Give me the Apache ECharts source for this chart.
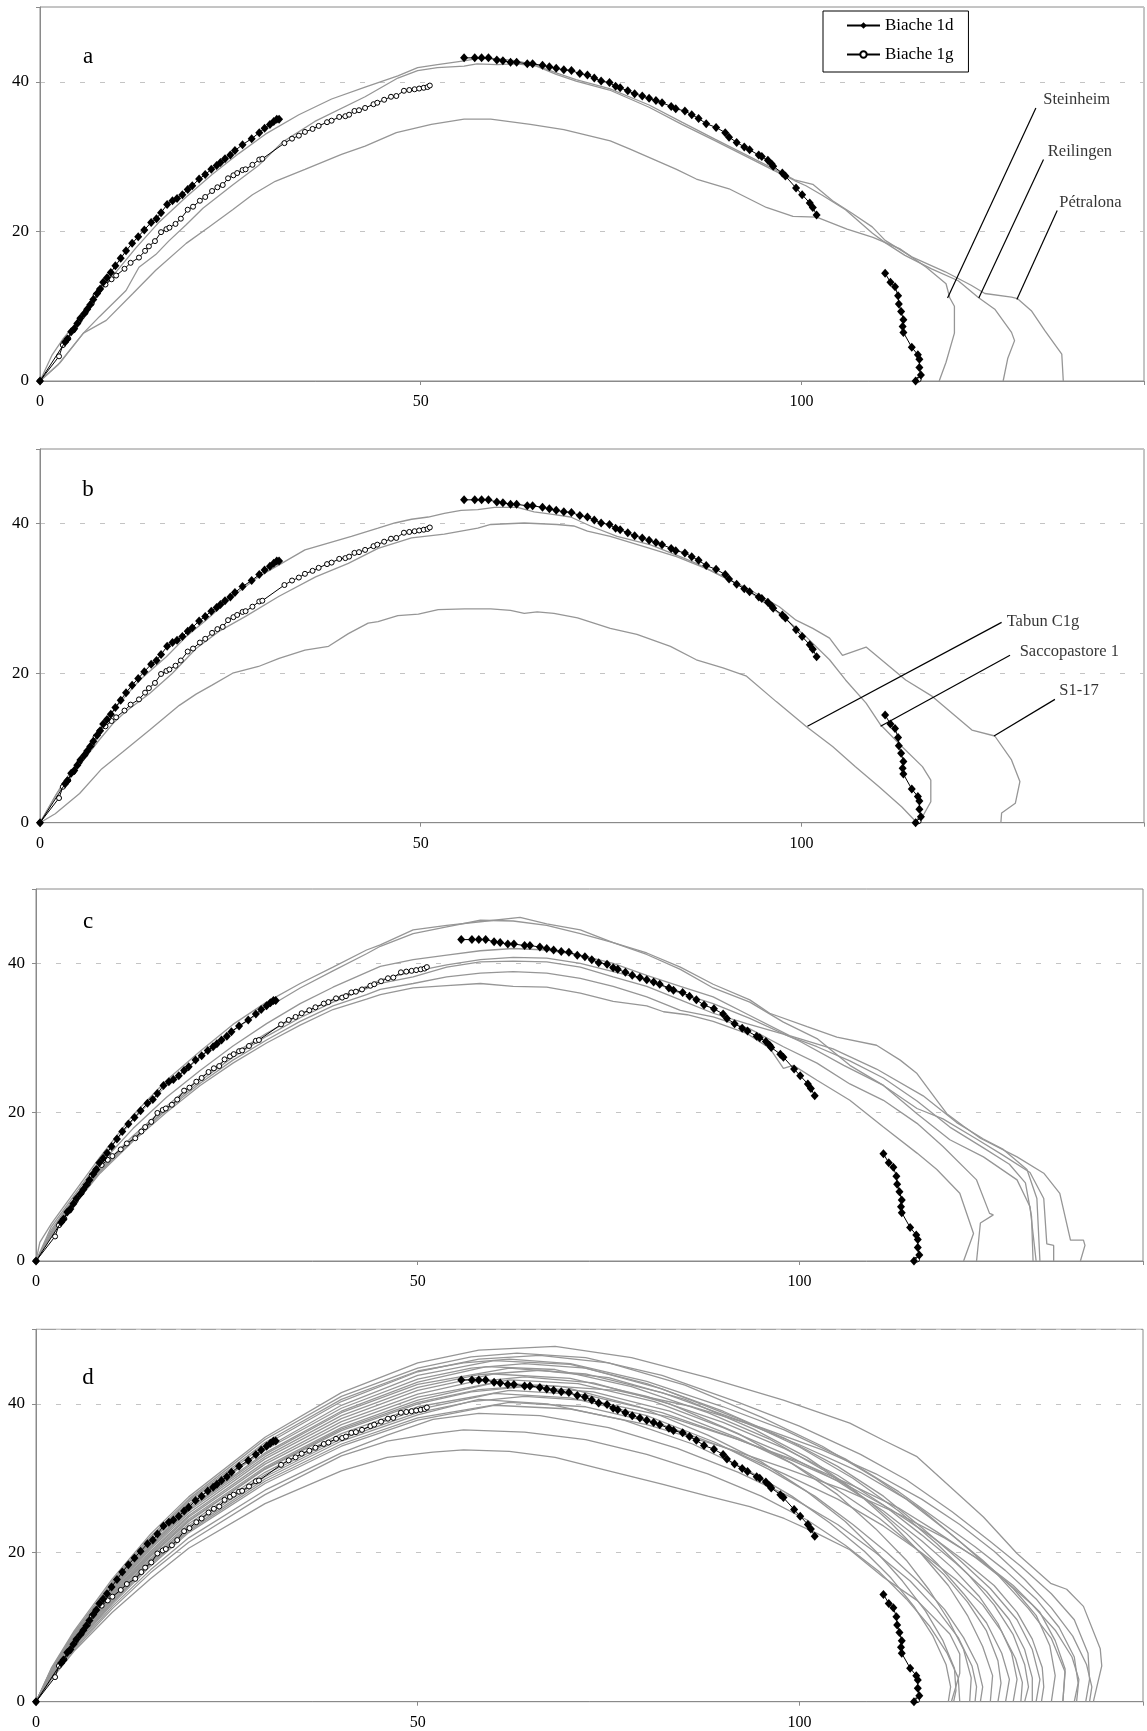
<!DOCTYPE html>
<html><head><meta charset="utf-8">
<script src="https://cdn.jsdelivr.net/npm/echarts@6/dist/echarts.min.js"></script>
<style>html,body{margin:0;padding:0;background:#fff}#c{width:1147px;height:1731px}</style>
</head><body><div id="c"></div><script>
// ---------------- DATA ----------------
const X_TICKS = [0, 50, 100];
const Y_TICKS = [0, 20, 40];
const PANEL_LETTERS = ['a', 'b', 'c', 'd'];
const LEGEND_NAMES = ['Biache 1d', 'Biache 1g'];

// Biache 1d (black diamonds), three pieces
const BIACHE_1D_1 = [[0,0],[3.3,5.2],[3.6,5.6],[4.1,6.6],[4.5,7.0],[4.9,7.7],[5.3,8.4],[5.8,9.0],[6.2,9.6],[6.6,10.2],[7.0,10.9],[7.5,11.7],[7.9,12.3],[8.3,13.2],[8.8,13.8],[9.3,14.5],[9.9,15.4],[10.6,16.4],[11.3,17.4],[12.1,18.4],[12.9,19.3],[13.7,20.2],[14.6,21.2],[15.3,21.7],[15.9,22.5],[16.7,23.6],[17.4,24.1],[18.0,24.4],[18.7,24.9],[19.4,25.6],[20.0,26.1],[20.9,27.0],[21.7,27.6],[22.5,28.3],[23.2,28.8],[23.7,29.2],[24.3,29.7],[25.0,30.2],[25.6,30.8],[26.6,31.6],[27.8,32.4],[28.8,33.2],[29.5,33.8],[30.2,34.3],[30.7,34.7],[31.1,35.0],[31.4,35.0]];
const BIACHE_1D_2 = [[55.7,43.2],[57.1,43.2],[58.0,43.2],[58.9,43.2],[60.0,42.9],[60.8,42.8],[61.8,42.6],[62.6,42.6],[64.0,42.4],[64.7,42.4],[66.0,42.2],[66.9,42.0],[67.8,41.8],[68.8,41.6],[69.8,41.5],[70.9,41.1],[71.9,40.9],[72.8,40.5],[73.7,40.1],[74.8,39.9],[75.6,39.4],[76.2,39.2],[77.2,38.8],[78.1,38.4],[79.1,38.1],[80.0,37.8],[80.9,37.5],[81.7,37.2],[82.9,36.7],[83.5,36.4],[84.7,36.1],[85.6,35.6],[86.5,35.1],[87.5,34.4],[88.8,33.9],[90.0,33.2],[90.5,32.6],[91.5,31.9],[92.5,31.3],[93.2,30.9],[94.4,30.2],[94.8,30.0],[95.6,29.5],[96.1,29.0],[96.3,28.7],[97.5,27.8],[97.9,27.4],[99.3,25.8],[100.1,24.9],[101.1,23.8],[101.5,23.2],[102.0,22.2]];
const BIACHE_1D_3 = [[111.0,14.4],[111.7,13.2],[112.3,12.6],[112.7,11.4],[112.8,10.3],[113.1,9.3],[113.4,8.2],[113.3,7.3],[113.4,6.5],[114.5,4.5],[115.3,3.5],[115.5,2.9],[115.5,1.8],[115.7,0.8],[115.0,0.0]];
// Biache 1g (open circles)
const BIACHE_1G_1 = [[0,0],[2.5,3.3],[3.0,4.8],[3.7,5.7],[4.4,6.8],[5.2,8.1],[6.0,9.2],[6.8,10.4],[7.3,11.5],[7.8,12.2],[8.6,12.9],[9.4,13.6],[10.0,14.1],[11.1,15.0],[11.9,15.8],[13.0,16.5],[13.8,17.4],[14.3,18.0],[15.1,18.7],[15.9,19.9],[16.6,20.3],[17.0,20.5],[17.8,21.0],[18.5,21.7],[19.4,22.9],[20.1,23.3],[21.0,24.1],[21.7,24.6],[22.6,25.4],[23.3,25.9],[24.0,26.2],[24.7,27.1],[25.4,27.5],[25.9,27.8],[26.6,28.2],[27.0,28.3],[27.9,28.9],[28.8,29.6],[29.2,29.7],[32.1,31.8],[33.1,32.4],[34.0,32.8],[34.8,33.3],[35.8,33.7],[36.6,34.1],[37.7,34.6],[38.3,34.8],[39.3,35.3],[40.1,35.4],[40.6,35.6],[41.3,36.1],[41.9,36.2],[42.7,36.5],[43.8,37.0],[44.3,37.2],[45.2,37.6],[46.1,38.0],[46.8,38.1],[47.8,38.8],[48.5,38.9],[49.2,39.0],[49.8,39.1],[50.4,39.2],[50.9,39.3],[51.2,39.5]];
const BIACHE_1G_2 = [[115.4,0.2]];

// Panel a
const STEINHEIM = [[0,0],[2.6,2.4],[5.7,6.4],[8.7,8.1],[12.2,11.7],[15.2,14.8],[19.2,18.4],[22.2,20.6],[25.3,22.9],[27.9,24.9],[30.9,26.7],[34.8,28.3],[39.6,30.3],[42.7,31.4],[46.8,33.2],[51.4,34.3],[55.7,35.0],[59.2,35.0],[64.4,34.3],[68.8,33.6],[74.9,32.1],[77.5,31.0],[83.6,28.3],[86.2,27.0],[90.5,25.7],[95.4,23.2],[98.9,22.0],[102.0,21.9],[106.0,20.3],[109.4,19.2],[112.9,17.7],[116.4,15.2],[119.0,13.0],[119.5,11.1],[120.1,10.0],[120.1,6.4],[119.0,2.5],[118.1,0]];
const REILINGEN = [[0,0],[2.3,2.1],[5.7,6.4],[7.8,8.6],[11.3,12.1],[13.0,15.2],[15.2,16.9],[16.9,18.7],[19.2,20.9],[21.4,23.1],[25.3,26.2],[28.7,28.8],[31.8,31.9],[36.1,34.7],[42.7,38.0],[47.0,40.5],[49.6,41.5],[52.2,41.9],[55.7,42.1],[57.4,42.4],[60.0,42.3],[62.6,42.4],[65.2,42.1],[67.8,41.0],[70.4,40.1],[74.8,38.9],[80.0,36.6],[84.3,34.3],[88.7,32.1],[93.0,29.9],[96.5,28.1],[99.1,26.8],[100.6,26.1],[102.8,24.8],[105.8,22.9],[109.3,19.8],[111.0,18.5],[113.6,16.8],[117.1,15.0],[120.6,13.4],[123.2,11.2],[125.4,9.6],[127.6,6.5],[128.0,5.4],[127.1,3.0],[126.5,0]];
const PETRALONA = [[0,0],[1.6,3.5],[3.0,5.6],[5.7,9.0],[7.8,11.8],[10.0,14.6],[12.6,17.8],[15.7,21.3],[19.2,24.6],[22.6,27.6],[26.1,30.4],[29.6,33.0],[34.0,35.6],[38.3,37.7],[42.7,39.3],[47.0,40.8],[49.6,41.9],[52.2,42.3],[55.7,42.8],[57.4,43.1],[60.0,43.1],[62.6,42.8],[65.2,42.2],[67.8,41.2],[70.4,40.3],[74.8,39.1],[80.0,36.9],[84.3,34.6],[88.7,32.3],[93.0,30.1],[96.5,28.3],[99.1,26.9],[101.5,26.3],[104.1,24.1],[106.7,22.4],[109.3,20.6],[111.0,18.8],[114.5,16.6],[118.9,14.6],[122.3,12.8],[124.1,11.7],[127.6,11.2],[128.4,11.0],[130.2,9.4],[132.0,6.7],[134.2,3.6],[134.4,0]];

// Panel b
const TABUN_C1G = [[0,0],[2.0,1.2],[5.2,3.9],[8.1,7.2],[10.9,9.5],[14.4,12.4],[18.3,15.7],[20.5,17.2],[22.6,18.4],[25.3,20.0],[28.7,20.9],[31.4,22.0],[34.8,23.1],[37.9,23.6],[40.5,25.3],[43.1,26.7],[44.4,26.9],[47.0,27.7],[49.7,27.9],[52.3,28.5],[55.8,28.6],[59.2,28.6],[61.8,28.4],[63.6,28.0],[65.3,28.2],[67.5,28.0],[70.6,27.4],[74.9,26.0],[78.4,25.2],[82.8,23.6],[86.2,21.8],[89.7,20.7],[92.8,19.6],[96.7,16.2],[100.6,12.9],[104.1,10.2],[107.1,7.5],[110.2,4.8],[113.2,2.1],[114.8,0.4],[115.0,0]];
const SACCOPASTORE_1 = [[0,0],[2.2,3.9],[5.2,7.7],[7.8,11.1],[9.6,13.3],[11.3,14.9],[14.4,17.3],[17.4,20.0],[20.5,23.3],[23.5,25.6],[27.0,27.6],[31.4,30.3],[36.2,32.9],[40.5,34.7],[44.4,36.7],[48.8,38.1],[53.1,38.6],[57.5,39.4],[59.2,39.9],[63.6,40.1],[67.9,39.9],[70.1,39.7],[71.9,39.0],[74.9,38.3],[80.1,36.7],[83.6,35.6],[88.0,33.8],[90.6,32.5],[92.8,31.2],[97.1,28.0],[100.6,24.9],[103.7,21.8],[105.8,19.1],[108.5,16.0],[110.4,13.1],[113.2,10.2],[115.9,7.5],[117.0,5.7],[117.0,2.8],[115.9,0.8],[115.0,0]];
const S1_17 = [[0,0],[1.7,3.0],[3.0,5.3],[5.2,8.4],[7.8,12.4],[10.0,15.5],[13.1,19.1],[16.6,22.2],[19.2,24.9],[21.8,27.1],[25.3,30.3],[28.7,32.9],[31.4,34.5],[34.8,36.5],[40.9,38.3],[44.4,39.4],[46.6,40.1],[48.8,40.6],[51.0,40.9],[53.1,41.4],[55.3,41.8],[57.5,41.9],[59.7,42.2],[62.7,42.2],[64.9,41.6],[67.1,41.3],[69.7,40.9],[72.3,39.7],[75.8,38.3],[80.1,37.2],[83.6,35.8],[86.2,34.7],[89.7,32.9],[92.8,31.4],[97.1,28.9],[99.3,27.1],[101.5,26.0],[103.7,24.7],[105.4,22.4],[108.5,23.5],[111.1,21.3],[113.7,19.1],[117.2,16.9],[122.4,12.4],[125.4,11.6],[127.6,8.4],[128.7,5.5],[128.1,2.6],[126.3,1.3],[126.2,0]];

// Panel c
const C_1 = [[0,0],[0.5,2.5],[2,5.0],[4,7.8],[8.4,14.0],[12.7,19.6],[17.1,24.3],[21.5,28.2],[25.8,31.8],[30.2,34.8],[34.6,37.3],[38.9,39.5],[43.3,41.8],[45.1,42.5],[49.4,44.5],[53.8,45.1],[58.2,45.6],[63.4,46.2],[66.9,45.3],[71.3,44.5],[75.6,42.8],[80.0,41.4],[84.4,39.5],[88.7,37.2],[93.5,35.1],[96.1,33.3],[101.0,31.5],[104.9,30.1],[110.1,29.0],[113.2,27.0],[115.4,25.2],[118.0,21.6],[119.3,19.8],[121.5,18.1],[123.7,16.5],[128.5,14.0],[132.0,11.8],[134.1,9.1],[135.5,2.8],[137.2,2.8],[137.4,2.1],[136.8,0]];
const C_2 = [[0,0],[2,4.6],[4,7.4],[8.4,13.6],[12.7,19.0],[17.1,23.6],[21.5,27.4],[25.8,31.0],[30.2,34.0],[34.6,36.7],[38.9,39.0],[43.3,41.3],[45.1,42.3],[49.4,44.0],[53.8,44.9],[58.2,45.8],[62.5,45.7],[66.9,45.1],[71.3,44.0],[75.6,42.8],[80.0,41.2],[84.4,39.2],[88.7,36.7],[93.5,34.8],[97.9,32.1],[102.3,29.9],[106.6,26.3],[111.0,23.6],[115.4,20.5],[118.8,19.1],[123.2,16.4],[126.7,14.2],[130.2,11.9],[132.0,8.4],[132.4,2.3],[133.3,2.1],[133.3,0]];
const C_3 = [[0,0],[2,4.2],[4,7.1],[8.4,13.0],[12.7,17.8],[17.1,22.0],[21.5,25.6],[25.8,28.9],[30.2,31.9],[34.6,34.6],[38.9,36.8],[43.3,38.8],[45.1,39.6],[49.4,40.5],[53.8,41.1],[58.2,41.7],[62.5,42.0],[66.9,41.8],[71.3,41.1],[75.6,40.0],[80.0,38.4],[84.4,36.9],[88.7,35.5],[93.5,33.0],[98.7,30.3],[104.4,28.5],[110.1,25.8],[116.2,22.2],[120.6,18.6],[124.1,16.4],[126.7,15.0],[129.8,12.3],[131.1,8.4],[131.5,0]];
const C_4 = [[0,0],[2,3.9],[4,6.9],[8.4,12.4],[12.7,16.8],[17.1,20.8],[21.5,24.6],[25.8,27.8],[30.2,30.6],[34.6,33.1],[38.9,35.2],[43.3,36.9],[45.1,37.8],[49.4,38.9],[53.8,39.8],[58.2,40.5],[62.5,40.8],[66.9,40.7],[71.3,40.0],[75.6,38.9],[80.0,37.8],[84.4,36.0],[88.7,34.6],[93.5,32.6],[100.1,29.5],[105.8,26.3],[111.0,23.6],[115.4,19.8],[119.7,16.3],[124.1,14.0],[128.5,10.9],[130.2,7.3],[131.0,0]];
const C_5 = [[0,0],[2,3.7],[4,6.7],[8.4,12.2],[12.7,16.5],[17.1,20.5],[21.5,24.2],[25.8,27.4],[30.2,30.2],[34.6,32.7],[38.9,34.8],[43.3,36.6],[45.1,37.3],[49.4,38.2],[53.8,39.5],[58.2,40.2],[62.5,40.3],[66.9,40.2],[71.3,39.5],[75.6,38.2],[80.0,36.9],[84.4,35.1],[88.7,33.3],[93.1,31.9],[97.9,30.5],[102.3,28.8],[106.6,26.9],[111.0,24.6],[115.4,21.5],[119.7,18.0],[124.1,15.2],[127.5,13.0],[129.6,10.5],[130.4,6.0],[130.6,0]];
const C_6 = [[0,0],[2,3.6],[4,6.5],[8.4,12.0],[12.7,16.3],[17.1,20.3],[21.5,23.9],[25.8,27.0],[30.2,29.7],[34.6,32.2],[38.9,34.3],[43.3,35.8],[45.1,36.5],[49.4,37.3],[53.8,38.2],[58.2,38.7],[62.5,38.9],[66.9,38.7],[71.3,38.0],[75.6,36.9],[80.0,35.5],[84.4,33.7],[88.7,32.8],[93.5,31.2],[97.9,28.8],[102.3,26.6],[106.6,23.8],[111.0,21.6],[115.4,18.5],[118.8,15.4],[123.2,10.9],[124.9,6.4],[125.4,6.2],[123.7,5.1],[123.2,0]];
const C_7 = [[0,0],[2,3.4],[4,6.3],[8.4,11.8],[12.7,16.1],[17.1,20.0],[21.5,23.6],[25.8,26.6],[30.2,29.3],[34.6,31.7],[38.9,33.8],[43.3,35.2],[45.1,35.8],[49.4,36.7],[53.8,37.0],[58.2,37.3],[62.5,36.9],[66.9,36.8],[71.3,36.0],[75.6,34.9],[80.0,34.3],[82.2,33.5],[85.3,33.1],[88.7,32.2],[93.1,30.6],[96.1,28.6],[97.9,25.9],[99.2,26.3],[102.3,24.3],[106.6,21.6],[111.0,18.0],[115.4,14.5],[118.0,12.3],[121.0,9.1],[122.8,3.7],[121.5,0]];

// Panel d
const D_01 = [[0,0],[2,4.5],[5,9.5],[10,16.5],[15,22.5],[20,27.5],[30,35.5],[40,41.5],[50,45.5],[58,47.2],[68,47.7],[78,46.2],[88,43.5],[97.9,40.5],[106.6,37.4],[111,35.1],[115.4,32.9],[119.7,28.9],[124.1,24.8],[128.5,19.9],[132.9,15.9],[135,15.1],[137.2,12.8],[139.4,7.1],[139.6,4.8],[138.5,0]];
const D_02 = [[0,0],[2,4.3],[5,9.2],[10,16.2],[15,22.2],[20,27.2],[30,35.2],[40,41.0],[50,44.8],[57,46.3],[63,46.8],[72,46.2],[82,43.8],[92,40.2],[100,37.0],[108,33.2],[114,29.8],[120,25.5],[125,21.5],[129,18.2],[133,14.5],[136,11.0],[137.8,6.5],[138,3.0],[137.5,0]];
const D_03 = [[0,0],[2,4.2],[5,9.0],[10,15.8],[15,21.8],[20,26.8],[30,34.5],[40,40.3],[50,44.3],[58,46.0],[66,46.5],[75,45.5],[85,42.5],[95,38.2],[103,34.3],[110,30.0],[116,25.8],[121,21.5],[126,17.0],[130,12.5],[133,8.5],[134.8,4.0],[134.5,0]];
const D_04 = [[0,0],[2,4.4],[5,9.3],[10,16.0],[15,22.0],[20,27.0],[30,34.8],[40,40.6],[50,44.4],[56,45.5],[62,46.0],[70,45.4],[80,43.0],[90,39.6],[98,36.5],[106,32.6],[113,28.2],[118,24.5],[123,20.8],[127,17.6],[131,13.8],[134,10.0],[136,6.0],[136.5,2.5],[136,0]];
const D_05 = [[0,0],[2,4.0],[5,8.8],[10,15.5],[15,21.4],[20,26.4],[30,34.0],[40,39.8],[50,43.8],[60,45.8],[70,45.3],[80,42.7],[90,39.0],[98,35.4],[105,31.6],[111,27.6],[116,23.4],[121,19.0],[125,15.2],[128.5,11.0],[130.5,7.0],[131.5,3.0],[131,0]];
const D_06 = [[0,0],[2,4.1],[5,8.9],[10,15.6],[15,21.5],[20,26.5],[30,33.8],[40,39.4],[50,43.3],[57,44.8],[64,45.4],[72,44.8],[82,42.0],[92,38.0],[100,34.2],[107,30.0],[113,25.6],[118,21.2],[122,17.2],[125.5,13.0],[128,9.0],[129.5,5.0],[130,2.0],[129.5,0]];
const D_07 = [[0,0],[2,4.0],[5,8.7],[10,15.3],[15,21.1],[20,26.0],[30,33.4],[40,39.0],[50,42.9],[59,45.0],[68,44.6],[78,42.3],[88,38.8],[96,35.3],[103,31.2],[109,27.0],[114,22.6],[118,18.6],[121.5,14.5],[124.5,10.6],[126.5,6.5],[127.5,3.0],[127,0]];
const D_08 = [[0,0],[2,3.9],[5,8.5],[10,15.1],[15,20.9],[20,25.8],[30,33.2],[40,38.8],[50,42.6],[62,44.8],[72,44.0],[82,41.5],[92,37.8],[100,34.5],[108,30.8],[114,27.2],[119,23.2],[124,19.0],[128,15.2],[131,11.6],[132.8,7.5],[133.5,3.5],[133,0]];
const D_09 = [[0,0],[2,3.9],[5,8.6],[10,15.0],[15,20.7],[20,25.6],[30,32.9],[40,38.4],[50,42.2],[58,43.9],[66,44.5],[75,43.5],[85,40.6],[94,36.6],[101,32.8],[107,28.6],[112,24.0],[116,19.8],[119.5,15.6],[122,11.6],[124,7.4],[125.3,3.5],[125,0]];
const D_10 = [[0,0],[2,3.8],[5,8.4],[10,14.8],[15,20.5],[20,25.3],[30,32.6],[40,38.0],[50,41.8],[60,44.0],[70,43.4],[80,41.0],[90,37.5],[98,34.0],[105,30.4],[111,26.4],[116,22.4],[120.5,18.6],[124.5,14.8],[127.5,11.0],[129.5,7.0],[130.5,3.2],[130.5,0]];
const D_11 = [[0,0],[2,3.7],[5,8.3],[10,14.6],[15,20.2],[20,25.0],[30,32.2],[40,37.6],[50,41.3],[57,42.9],[64,43.6],[73,42.8],[83,40.0],[92,36.0],[99,32.0],[105,27.8],[110,23.2],[114,19.0],[117,15.0],[119.5,11.0],[121.5,7.0],[122.5,3.2],[122.3,0]];
const D_12 = [[0,0],[2,3.7],[5,8.2],[10,14.5],[15,20.0],[20,24.8],[30,31.9],[40,37.2],[50,40.9],[62,43.2],[71,42.7],[81,40.3],[90,36.8],[98,33.3],[105,29.6],[111,25.6],[116,21.6],[120,18.0],[123.5,14.2],[126,10.5],[127.8,6.5],[128.5,3.0],[128,0]];
const D_13 = [[0,0],[2,3.6],[5,8.1],[10,14.3],[15,19.8],[20,24.5],[30,31.5],[40,36.8],[50,40.5],[60,42.8],[69,42.3],[79,39.6],[88,35.8],[95,32.2],[101,28.2],[106,24.2],[110,20.2],[113.5,16.2],[116.5,12.2],[118.8,8.2],[120.3,4.5],[120.5,1.5],[120.2,0]];
const D_14 = [[0,0],[2,3.6],[5,8.0],[10,14.1],[15,19.5],[20,24.2],[30,31.2],[40,36.4],[50,40.0],[57,41.6],[64,42.3],[73,41.6],[83,39.0],[92,35.4],[99,32.0],[105,28.4],[110.5,24.6],[115,20.8],[119,17.0],[122,13.4],[124.5,9.5],[126,5.5],[126.4,2.5],[126,0]];
const D_15 = [[0,0],[2,3.5],[5,7.9],[10,13.9],[15,19.2],[20,23.9],[30,30.8],[40,36.0],[50,39.6],[62,41.8],[72,41.2],[82,38.8],[91,35.6],[99,32.4],[106,29.2],[112,25.8],[117,22.4],[121.5,19.0],[125.5,15.6],[128.5,12.0],[130.5,8.4],[131.8,4.6],[132,2.0],[131.7,0]];
const D_16 = [[0,0],[2,3.5],[5,7.8],[10,13.8],[15,19.0],[20,23.6],[30,30.5],[40,35.6],[50,39.2],[60,41.4],[70,40.8],[80,38.4],[89,34.8],[96,31.2],[102,27.6],[107,23.8],[111.5,20.0],[115.5,16.2],[119,12.4],[121.5,8.6],[123.3,5.0],[124,2.0],[123.7,0]];
const D_17 = [[0,0],[2,3.4],[5,7.7],[10,13.6],[15,18.8],[20,23.4],[30,30.2],[40,35.3],[50,38.8],[57,40.3],[64,41.0],[73,40.4],[83,38.2],[92,35.2],[100,32.2],[107,29.0],[113,26.0],[118,22.8],[123,19.4],[127,16.2],[130.5,13.0],[133.5,9.6],[135.7,6.0],[136.6,3.0],[136.3,0]];
const D_18 = [[0,0],[2,3.4],[5,7.6],[10,13.4],[15,18.6],[20,23.1],[30,29.9],[40,35.0],[50,38.5],[58,40.6],[67,40.0],[77,37.8],[86,34.6],[93,31.2],[99,27.6],[104,24.0],[108.5,20.2],[112,16.6],[115,12.8],[117.5,8.8],[119.2,5.0],[119.8,2.0],[119.5,0]];
const D_19 = [[0,0],[2,3.3],[5,7.5],[10,13.3],[15,18.4],[20,22.9],[30,29.6],[40,34.6],[50,38.1],[62,40.2],[72,39.6],[82,37.2],[91,33.8],[98,30.6],[105,27.2],[111,23.6],[116,20.0],[120.5,16.4],[124,13.0],[126.5,9.4],[128.3,5.8],[129.2,2.6],[129,0]];
const D_20 = [[0,0],[2,3.3],[5,7.4],[10,13.1],[15,18.2],[20,22.7],[30,29.3],[40,34.3],[50,37.8],[60,39.8],[70,39.3],[80,37.2],[90,34.2],[98,31.4],[106,28.4],[113,25.2],[119,22.0],[124,18.8],[128,15.6],[131.5,12.0],[133.5,8.2],[134.8,4.4],[134.5,0]];
const D_21 = [[0,0],[2,3.2],[5,7.2],[10,12.8],[15,17.7],[20,22.0],[30,28.4],[40,33.4],[46,35.8],[52,37.9],[58,38.7],[66,38.4],[75,36.8],[84,34.0],[92,30.8],[99,27.4],[105,23.8],[110,20.0],[114.5,16.2],[118,12.4],[120.8,8.6],[122.6,4.8],[123.2,2.0],[123,0]];
const D_22 = [[0,0],[2,3.1],[5,7.0],[10,12.5],[15,17.3],[20,21.4],[30,27.8],[40,33.0],[46,35.0],[52,36.0],[56,36.5],[64,36.2],[72,35.2],[80,33.2],[88,30.6],[95,27.6],[101,24.4],[106,21.0],[110.5,17.4],[114,13.8],[117,10.2],[119.3,6.6],[120.8,3.2],[121,0]];
const D_23 = [[0,0],[2,3.0],[5,6.8],[10,12.0],[15,16.5],[20,20.6],[30,26.6],[40,31.0],[46,32.8],[52,33.5],[56,33.8],[62,33.6],[68,32.8],[75,31.0],[82,29.2],[88,27.6],[93.5,26.2],[98,24.6],[102.3,22.6],[106.6,20.4],[111,16.7],[115.4,13.6],[119.7,9.1],[121,6.4],[121,3.8],[119.9,0]];
const D_24 = [[0,0],[2,3.6],[5,8.0],[10,14.2],[15,19.6],[20,24.3],[30,31.3],[40,36.6],[50,40.2],[58,41.9],[66,42.5],[76,41.8],[86,39.6],[95,36.8],[103,33.8],[110,30.6],[116,27.2],[121,23.8],[125.5,20.2],[129.5,16.4],[133,12.6],[135.8,8.8],[137.6,5.0],[138.3,2.0],[138,0]];

// Labels with leader lines (panels a and b), in data units
const NOTE_TEXT_A = ['Steinheim', 'Reilingen', 'Pétralona'];
const NOTE_AT_A = [[131.7,37.6],[132.3,30.7],[133.8,23.9]];
const NOTE_LINE_A = [[[130.8,36.5],[119.2,11.1]],[[131.8,29.6],[123.3,11.1]],[[133.6,22.8],[128.3,10.9]]];
const NOTE_TEXT_B = ['Tabun C1g', 'Saccopastore 1', 'S1-17'];
const NOTE_AT_B = [[126.9,26.9],[128.6,22.9],[133.8,17.7]];
const NOTE_LINE_B = [[[126.3,26.8],[100.8,12.9]],[[127.4,22.4],[110.4,12.9]],[[133.3,16.5],[125.3,11.6]]];

// ---------------- CHART ----------------
const FONT = '"Liberation Serif","Times New Roman",serif';
const GREY = '#969696';
const AXIS_GREY = '#8a8a8a';
const GRIDS = [
  {left:40, top:7, width:1110, height:374},
  {left:40, top:449, width:1110, height:373.7},
  {left:36, top:889, width:1107, height:372},
  {left:36, top:1329.3, width:1107, height:372.4}
];
const LETTER_POS = [[88,57],[88,490],[88,922],[88,1378]];

const PANELS = [
  {grey:[STEINHEIM, REILINGEN, PETRALONA], text:NOTE_TEXT_A, at:NOTE_AT_A, lines:NOTE_LINE_A},
  {grey:[TABUN_C1G, SACCOPASTORE_1, S1_17], text:NOTE_TEXT_B, at:NOTE_AT_B, lines:NOTE_LINE_B},
  {grey:[C_1,C_2,C_3,C_4,C_5,C_6,C_7], text:[], at:[], lines:[]},
  {grey:[D_01,D_02,D_03,D_04,D_05,D_06,D_07,D_08,D_09,D_10,D_11,D_12,D_13,D_14,D_15,D_16,D_17,D_18,D_19,D_20,D_21,D_22,D_23,D_24], text:[], at:[], lines:[]}
];

const grid = GRIDS.map(g => Object.assign({show:true, borderColor:AXIS_GREY, borderWidth:1, backgroundColor:'#fff'}, g));
const xAxis = GRIDS.map((g,i) => ({
  type:'value', gridIndex:i, min:0, max:145, interval:50,
  axisLine:{show:true, onZero:false, lineStyle:{color:AXIS_GREY, width:1}},
  axisTick:{show:true, length:4, lineStyle:{color:AXIS_GREY}},
  axisLabel:{color:'#000', fontFamily:FONT, fontSize:16, margin:13,
    formatter: v => X_TICKS.includes(v) ? String(v) : ''},
  splitLine:{show:false}
}));
const yAxis = GRIDS.map((g,i) => ({
  type:'value', gridIndex:i, min:0, max:50, interval:20,
  axisLine:{show:true, onZero:false, lineStyle:{color:AXIS_GREY, width:1}},
  axisTick:{show:true, length:4, lineStyle:{color:AXIS_GREY}},
  axisLabel:{color:'#000', fontFamily:FONT, fontSize:17, margin:11,
    formatter: v => Y_TICKS.includes(v) ? String(v) : ''},
  splitLine:{show:true, lineStyle:{color:'#c4c4c4', type:[5,15], width:1}}
}));

const series = [];
PANELS.forEach((p, i) => {
  p.grey.forEach(arr => series.push({
    type:'line', xAxisIndex:i, yAxisIndex:i, data:arr, symbol:'none', showSymbol:false,
    lineStyle:{color:GREY, width:1.3}, silent:true, z:2
  }));
  p.lines.forEach(seg => series.push({
    type:'line', xAxisIndex:i, yAxisIndex:i, data:seg, symbol:'none', showSymbol:false,
    lineStyle:{color:'#000', width:1.2}, silent:true, z:3
  }));
  if (p.text.length) series.push({
    type:'scatter', xAxisIndex:i, yAxisIndex:i, symbolSize:1, silent:true, z:4,
    itemStyle:{color:'rgba(0,0,0,0)'},
    data:p.text.map((t,k) => ({name:t, value:p.at[k]})),
    label:{show:true, position:'right', distance:0, formatter:'{b}', color:'#000', fontFamily:FONT, fontSize:16.5}
  });
  [BIACHE_1D_1, BIACHE_1D_2, BIACHE_1D_3].forEach(seg => series.push({
    name:LEGEND_NAMES[0], type:'line', xAxisIndex:i, yAxisIndex:i, data:seg,
    symbol:'diamond', symbolSize:[8,9], showSymbol:true, showAllSymbol:true,
    itemStyle:{color:'#000'}, lineStyle:{color:'#000', width:1}, z:6
  }));
  [BIACHE_1G_1, BIACHE_1G_2].forEach(seg => series.push({
    name:LEGEND_NAMES[1], type:'line', xAxisIndex:i, yAxisIndex:i, data:seg,
    symbol:'circle', symbolSize:5, showSymbol:true, showAllSymbol:true,
    itemStyle:{color:'#fff', borderColor:'#000', borderWidth:1}, lineStyle:{color:'#000', width:1}, z:5
  }));
});

const chart = echarts.init(document.getElementById('c'), null, {renderer:'canvas'});
chart.setOption({
  animation:false,
  backgroundColor:'#fff',
  grid, xAxis, yAxis, series,
  legend:{
    data:LEGEND_NAMES, left:823, top:11, orient:'vertical',
    itemWidth:33, itemHeight:8, itemGap:12, padding:[6,15,9,23],
    borderColor:'#000', borderWidth:1, backgroundColor:'#fff', selectedMode:false,
    textStyle:{fontFamily:FONT, fontSize:17, color:'#000'}
  },
  graphic: PANEL_LETTERS.map((t,i) => ({
    type:'text', x:LETTER_POS[i][0], y:LETTER_POS[i][1], z:10,
    style:{text:t, fontFamily:FONT, fontSize:23, fill:'#000', align:'center', verticalAlign:'middle'}
  }))
});
</script></body></html>
